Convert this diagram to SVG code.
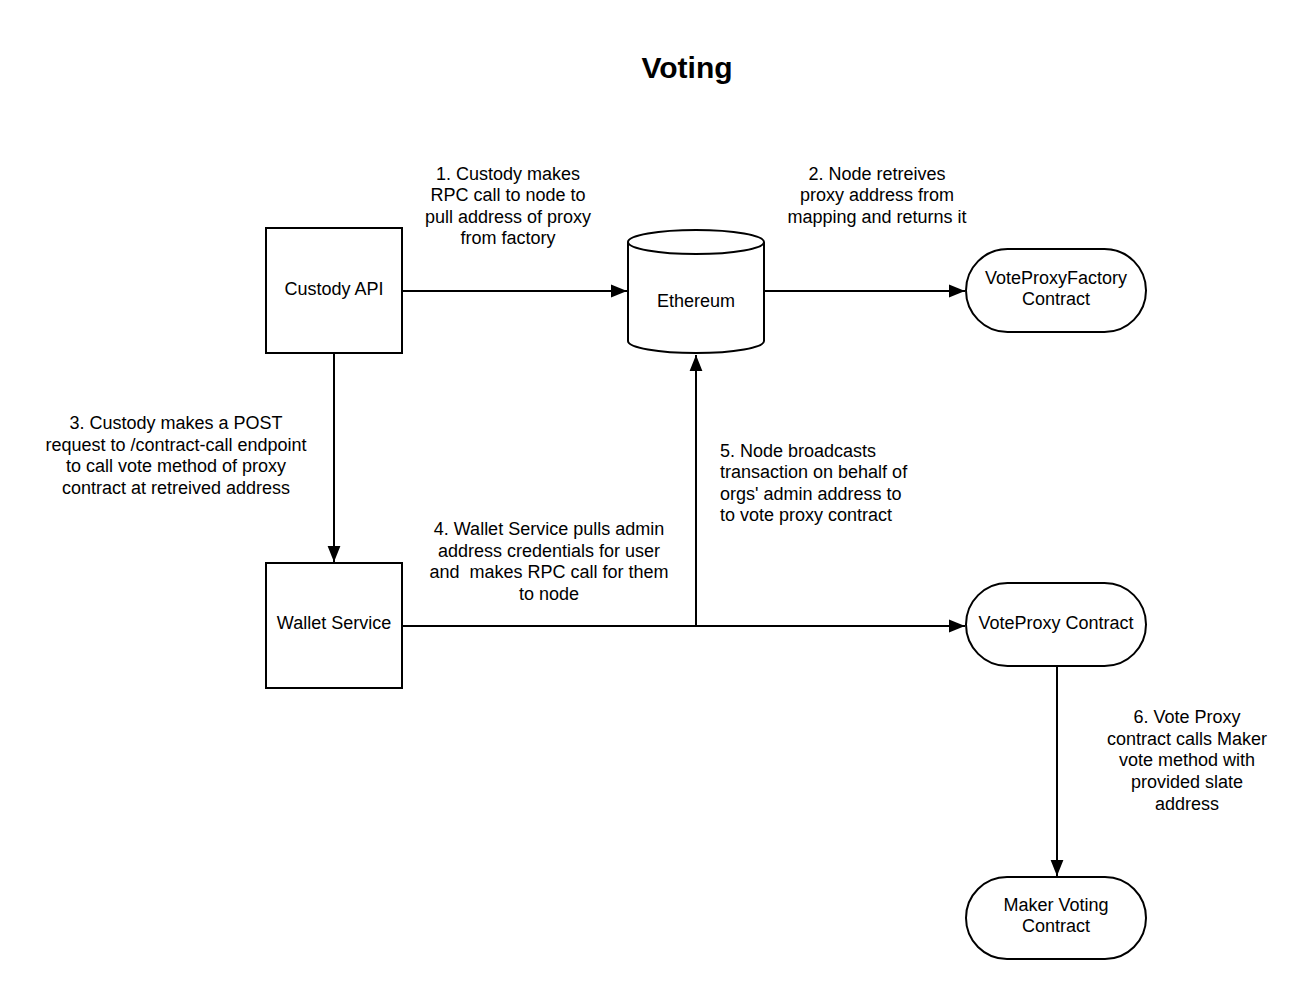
<svg xmlns="http://www.w3.org/2000/svg" width="1314" height="1000" viewBox="0 0 1314 1000">
<defs>
<marker id="arr" viewBox="0 0 10 10" refX="10" refY="5" markerWidth="16" markerHeight="16" markerUnits="userSpaceOnUse" orient="auto">
<path d="M0,1 L10,5 L0,9 Z" fill="#000"/>
</marker>
<style>
.n{fill:#fff;stroke:#000;stroke-width:2}
.t{font-family:"Liberation Sans",Arial,sans-serif;font-size:18px;fill:#000;text-anchor:middle}
.l{font-family:"Liberation Sans",Arial,sans-serif;font-size:18px;fill:#000;text-anchor:middle}
.ll{font-family:"Liberation Sans",Arial,sans-serif;font-size:18px;fill:#000;text-anchor:start}
.c{fill:none;stroke:#000;stroke-width:2}
</style>
</defs>
<rect width="1314" height="1000" fill="#fff"/>
<text x="687" y="78" style="font-family:'Liberation Sans',Arial,sans-serif;font-size:30px;font-weight:bold;text-anchor:middle">Voting</text>

<g id="connectors">
<line class="c" x1="402" y1="291" x2="627" y2="291" marker-end="url(#arr)"/>
<line class="c" x1="764" y1="291" x2="965" y2="291" marker-end="url(#arr)"/>
<line class="c" x1="334" y1="353" x2="334" y2="562" marker-end="url(#arr)"/>
<line class="c" x1="402" y1="626" x2="965" y2="626" marker-end="url(#arr)"/>
<line class="c" x1="696" y1="626" x2="696" y2="355" marker-end="url(#arr)"/>
<line class="c" x1="1057" y1="666" x2="1057" y2="876" marker-end="url(#arr)"/>
</g>

<g id="custody-api">
<rect class="n" x="266" y="228" width="136" height="125"/>
<text class="t" x="334" y="295">Custody API</text>
</g>
<g id="wallet-service">
<rect class="n" x="266" y="563" width="136" height="125"/>
<text class="t" x="334" y="629">Wallet Service</text>
</g>
<g id="ethereum">
<path class="n" d="M628,242 L628,341 A68,12 0 0 0 764,341 L764,242 A68,12 0 0 0 628,242 Z"/>
<path class="c" d="M628,242 A68,12 0 0 0 764,242"/>
<text class="t" x="696" y="307">Ethereum</text>
</g>
<g id="voteproxyfactory">
<rect class="n" x="966" y="249" width="180" height="83" rx="41.5" ry="41.5"/>
<text class="t" x="1056" y="284">VoteProxyFactory</text>
<text class="t" x="1056" y="305">Contract</text>
</g>
<g id="voteproxy">
<rect class="n" x="966" y="583" width="180" height="83" rx="41.5" ry="41.5"/>
<text class="t" x="1056" y="629">VoteProxy Contract</text>
</g>
<g id="maker-voting">
<rect class="n" x="966" y="877" width="180" height="82" rx="41" ry="41"/>
<text class="t" x="1056" y="911">Maker Voting</text>
<text class="t" x="1056" y="932">Contract</text>
</g>

<g id="labels">
<text class="l" x="508" y="180">1. Custody makes</text>
<text class="l" x="508" y="201">RPC call to node to</text>
<text class="l" x="508" y="223">pull address of proxy</text>
<text class="l" x="508" y="244">from factory</text>

<text class="l" x="877" y="180">2. Node retreives</text>
<text class="l" x="877" y="201">proxy address from</text>
<text class="l" x="877" y="223">mapping and returns it</text>

<text class="l" x="176" y="429">3. Custody makes a POST</text>
<text class="l" x="176" y="451">request to /contract-call endpoint</text>
<text class="l" x="176" y="472">to call vote method of proxy</text>
<text class="l" x="176" y="494">contract at retreived address</text>

<text class="l" x="549" y="535">4. Wallet Service pulls admin</text>
<text class="l" x="549" y="557">address credentials for user</text>
<text class="l" x="549" y="578" xml:space="preserve">and  makes RPC call for them</text>
<text class="l" x="549" y="600">to node</text>

<text class="ll" x="720" y="457">5. Node broadcasts</text>
<text class="ll" x="720" y="478">transaction on behalf of</text>
<text class="ll" x="720" y="500">orgs' admin address to</text>
<text class="ll" x="720" y="521">to vote proxy contract</text>

<text class="l" x="1187" y="723">6. Vote Proxy</text>
<text class="l" x="1187" y="745">contract calls Maker</text>
<text class="l" x="1187" y="766">vote method with</text>
<text class="l" x="1187" y="788">provided slate</text>
<text class="l" x="1187" y="810">address</text>
</g>
</svg>
